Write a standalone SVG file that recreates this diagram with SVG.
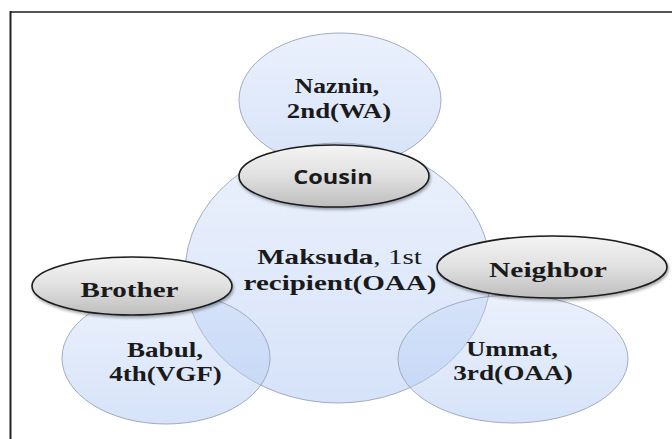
<svg xmlns="http://www.w3.org/2000/svg" width="672" height="439" viewBox="0 0 672 439">
<defs>
<linearGradient id="blue" x1="0" y1="0" x2="0" y2="1">
<stop offset="0" stop-color="#c4d6f6" stop-opacity="0.35"/>
<stop offset="1" stop-color="#b4cbf4" stop-opacity="0.55"/>
</linearGradient>
<linearGradient id="gray" x1="0" y1="0" x2="0" y2="1">
<stop offset="0" stop-color="#f4f4f4"/>
<stop offset="0.5" stop-color="#e0e0e0"/>
<stop offset="1" stop-color="#bdbdbd"/>
</linearGradient>
<filter id="sh" x="-10%" y="-20%" width="120%" height="150%">
<feGaussianBlur in="SourceAlpha" stdDeviation="1.5"/>
<feOffset dx="1" dy="2" result="b"/>
<feComponentTransfer><feFuncA type="linear" slope="0.35"/></feComponentTransfer>
<feMerge><feMergeNode/><feMergeNode in="SourceGraphic"/></feMerge>
</filter>
</defs>
<style>
.c{fill:url(#blue);stroke:#9aa4b4;stroke-width:0.9}
.g{fill:url(#gray);stroke:#1a1a1a;stroke-width:1.6;filter:url(#sh)}
.t{font-weight:700;font-size:22px;fill:#1a1a1a;text-anchor:middle}
.s{font-weight:700;font-size:19px;fill:#1a1a1a;text-anchor:middle}
.r{font-weight:400}
</style>
<rect width="672" height="439" fill="#ffffff"/>
<line x1="10" y1="12" x2="672" y2="12" stroke="#555555" stroke-width="2"/>
<line x1="10.5" y1="11" x2="10.5" y2="439" stroke="#222222" stroke-width="2"/>
<g font-family="Liberation Serif, serif">
<g id="naznin">
<ellipse class="c" cx="340" cy="100" rx="101" ry="67"/>
<text class="t" font-family="Liberation Serif, serif" transform="translate(337,93) scale(1.16,1)">Naznin,</text>
<text class="t" font-family="Liberation Serif, serif" transform="translate(339,118) scale(1.22,1)">2nd(WA)</text>
</g>
<g id="maksuda">
<ellipse class="c" cx="338" cy="273" rx="153" ry="130"/>
<text class="t" font-family="Liberation Serif, serif" transform="translate(339.5,264) scale(1.32,1)">Maksuda<tspan class="r">, 1st</tspan></text>
<text class="t" font-family="Liberation Serif, serif" transform="translate(340,290) scale(1.32,1)">recipient(OAA)</text>
</g>
<g id="babul">
<ellipse class="c" cx="166" cy="358" rx="104" ry="66"/>
<text class="t" font-family="Liberation Serif, serif" transform="translate(165,357) scale(1.23,1)">Babul,</text>
<text class="t" font-family="Liberation Serif, serif" transform="translate(165.5,381) scale(1.23,1)">4th(VGF)</text>
</g>
<g id="ummat">
<ellipse class="c" cx="513" cy="359" rx="115" ry="64"/>
<text class="t" font-family="Liberation Serif, serif" transform="translate(512,356) scale(1.2,1)">Ummat,</text>
<text class="t" font-family="Liberation Serif, serif" transform="translate(513,380) scale(1.24,1)">3rd(OAA)</text>
</g>
<g id="connectors">
<g id="cousin">
<ellipse class="g" cx="334" cy="176" rx="95" ry="31"/>
<text class="s" font-family="Open Sans, sans-serif" transform="translate(333,184) scale(1.24,1)">Cousin</text>
</g>
<g id="brother">
<ellipse class="g" cx="132" cy="286" rx="100" ry="29"/>
<text class="t" font-family="Liberation Serif, serif" transform="translate(129.5,297) scale(1.32,1)">Brother</text>
</g>
<g id="neighbor">
<ellipse class="g" cx="552" cy="267" rx="115" ry="31"/>
<text class="t" font-family="Liberation Serif, serif" transform="translate(548,277) scale(1.34,1)">Neighbor</text>
</g>
</g>
</g>
</svg>
